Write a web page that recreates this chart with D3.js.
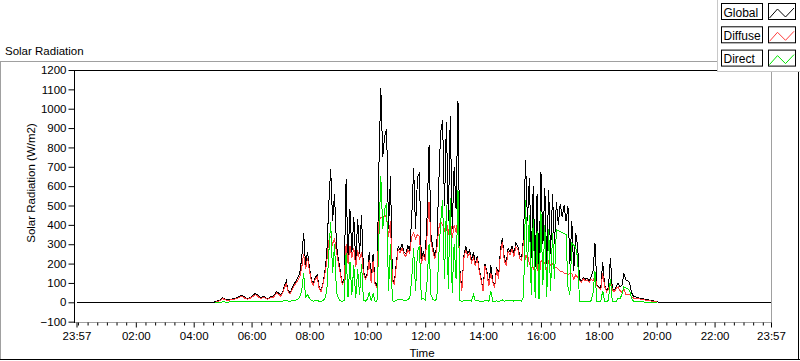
<!DOCTYPE html>
<html><head><meta charset="utf-8">
<script src="https://cdn.jsdelivr.net/npm/d3@7"></script>
<style>
body{margin:0;background:#fff}
svg{display:block}
text{font-family:"Liberation Sans",Arial,sans-serif;fill:#000}
</style>
</head><body>
<svg id="c" width="800" height="361"></svg>
<script>
// ---- data (minutes after midnight; samples every 4 minutes from 04:40) ----
const startMinute = 280;
const stepMinutes = 4;
const globalValues = [
0,2,6,10,14,24,18,15,14,16,
17,20,22,28,33,36,30,22,20,24,
30,38,46,38,28,24,30,26,20,22,
30,28,40,55,48,38,50,85,110,60,
48,75,95,110,130,150,230,360,190,260,
180,120,95,130,140,80,60,100,160,250,
500,690,420,560,300,220,160,100,120,636,
220,480,260,440,200,430,250,450,160,130,
150,260,110,250,100,80,700,1107,750,860,
896,380,650,120,100,200,290,270,300,260,
250,290,270,435,694,380,648,665,210,260,
230,450,810,350,280,240,290,600,880,940,
500,930,420,960,380,700,480,1038,170,63,
240,290,250,270,220,260,200,240,170,120,
63,200,160,90,190,110,80,184,130,270,
330,230,200,280,260,290,250,305,290,240,
230,340,736,420,640,230,600,180,560,140,
675,300,590,200,580,250,560,300,520,400,
510,440,500,420,495,200,420,160,360,290,
120,110,130,120,125,110,130,160,306,90,
80,70,210,90,60,80,228,70,60,80,
100,80,90,150,115,110,100,50,30,28,
25,22,20,18,15,14,12,10,8,5,
3,1,0,0,0,0];
const diffuseValues = [
null,0,3,6,10,19,14,11,10,12,
13,16,18,23,28,31,25,18,16,20,
25,33,40,33,23,20,25,22,16,18,
25,23,35,48,42,33,44,75,95,54,
43,66,84,98,115,130,180,250,170,230,
165,110,88,120,130,74,55,92,145,210,
320,340,300,330,260,200,148,93,108,300,
200,290,230,280,183,270,220,260,148,120,
138,220,102,215,93,74,420,440,430,450,
440,340,420,112,94,186,272,255,282,248,
238,272,252,340,360,330,350,340,198,243,
216,350,520,310,262,226,272,380,420,400,
370,420,350,430,330,400,360,440,158,58,
226,272,236,254,206,230,188,226,160,112,
58,188,150,84,150,102,74,172,122,254,
310,216,188,264,246,274,236,288,274,226,
216,320,220,250,200,180,180,150,200,120,
210,220,200,170,210,190,200,180,180,170,
160,160,150,150,140,150,150,120,140,130,
112,104,122,112,116,102,118,110,140,84,
74,64,150,82,55,68,110,64,54,72,
80,60,50,70,40,40,38,30,22,22,
20,18,16,14,12,11,9,7,5,3,
2,null,null,null,null,null];
const directValues = [
null,0,0,0,1,2,2,1,1,2,
2,2,2,3,3,3,2,2,2,3,
3,3,4,3,3,2,3,3,3,4,
4,4,5,6,5,5,6,10,12,6,
5,8,10,12,15,30,60,150,25,40,
20,10,6,8,10,5,4,8,20,60,
250,415,150,300,50,20,8,5,10,255,
25,210,40,190,20,170,40,200,10,5,
15,50,6,45,5,5,330,650,380,480,
510,60,300,8,5,10,15,12,15,10,
8,15,20,120,280,60,260,290,15,20,
10,110,300,40,15,10,15,230,410,530,
120,500,70,540,50,300,120,580,10,3,
8,10,8,10,6,40,8,10,6,5,
3,10,8,5,60,5,4,8,5,8,
12,6,8,10,8,10,6,12,10,8,
6,30,530,180,450,40,430,20,370,15,
470,90,400,30,380,60,360,120,375,370,
365,360,355,350,80,40,305,295,285,230,
5,3,4,4,5,4,8,50,160,5,
4,3,60,4,3,10,120,3,4,6,
20,20,40,80,75,70,60,20,6,4,
3,2,2,2,1,1,1,0,0,0,
0,null,null,null,null,null];
const timeDomain = [-3, 1437];           // 23:57 previous day .. 23:57
const yTicks = [-100,0,100,200,300,400,500,600,700,800,900,1000,1100,1200];
const xMajorTicks = [-3,120,240,360,480,600,720,840,960,1080,1200,1320,1437];
const xTickLabels = ["23:57","02:00","04:00","06:00","08:00","10:00","12:00","14:00","16:00","18:00","20:00","22:00","23:57"];
const xMinorStep = 20;
const legendNames = ["Global","Diffuse","Direct"];
const seriesColors = ["#000000","#ff3c3c","#00e600"];

// ---- drawing ----
const svg = d3.select("#c");
const FONT = "11.5px";
const x = d3.scaleLinear().domain(timeDomain).range([76.5, 771]);
const y = d3.scaleLinear().domain([-100,1200]).range([321.66, 70]);

// outer panel frame
svg.append("line").attr("x1",0).attr("x2",800).attr("y1",61.5).attr("y2",61.5).attr("stroke","#a0a0a0");
svg.append("line").attr("x1",0.5).attr("x2",0.5).attr("y1",61.5).attr("y2",360).attr("stroke","#a0a0a0");
svg.append("line").attr("x1",0).attr("x2",800).attr("y1",359.5).attr("y2",359.5).attr("stroke","#000");
svg.append("line").attr("x1",798.5).attr("x2",798.5).attr("y1",61.5).attr("y2",360).attr("stroke","#000");

svg.append("text").attr("x",5).attr("y",55).style("font-size",FONT).text("Solar Radiation");

// plot background
svg.append("rect").attr("x",74.5).attr("y",70.5).attr("width",697).attr("height",252).attr("fill","#fff");

// series
const times = globalValues.map((v,i)=> startMinute + i*stepMinutes);
const globalPts = [[timeDomain[0],0]].concat(globalValues.map((v,i)=>[times[i],v])).concat([[timeDomain[1],0]]);
const line = d3.line().defined(d=>d[1]!==null).x(d=>x(d[0])).y(d=>y(d[1]));
const series = [globalPts,
  diffuseValues.map((v,i)=>[times[i],v]),
  directValues.map((v,i)=>[times[i],v])];
series.forEach((pts,k)=>{
  svg.append("path").datum(pts).attr("d",line).attr("fill","none")
     .attr("stroke",seriesColors[k]).attr("stroke-width",1)
     .attr("shape-rendering","crispEdges");
});

// borders over data
svg.append("line").attr("x1",74).attr("x2",772).attr("y1",70.5).attr("y2",70.5).attr("stroke","#000");
svg.append("line").attr("x1",74.5).attr("x2",74.5).attr("y1",70).attr("y2",323).attr("stroke","#000");
svg.append("line").attr("x1",771.5).attr("x2",771.5).attr("y1",70).attr("y2",323).attr("stroke","#a0a0a0");
svg.append("line").attr("x1",75).attr("x2",772).attr("y1",322.5).attr("y2",322.5).attr("stroke","#a0a0a0");

// y axis
const ya = svg.append("g").attr("transform","translate(74.5,0)")
  .call(d3.axisLeft(y).tickValues(yTicks).tickSize(6).tickPadding(2).tickFormat(d3.format("d")));
ya.select(".domain").remove();
ya.selectAll("text").attr("font-family",null).style("font-size",FONT).attr("fill","#000");
ya.selectAll("line").attr("stroke","#000");

// x axis minor
const minorTicks = d3.range(0, 1440, xMinorStep).filter(t=>t%120!==0 || t===0);
const xm = svg.append("g").attr("transform","translate(0,322.5)")
  .call(d3.axisBottom(x).tickValues(minorTicks).tickSize(3).tickFormat(""));
xm.select(".domain").remove();
xm.selectAll("line").attr("stroke","#000");
// x axis major
const xa = svg.append("g").attr("transform","translate(0,322.5)")
  .call(d3.axisBottom(x).tickValues(xMajorTicks).tickSize(5).tickPadding(4)
    .tickFormat((d,i)=>xTickLabels[i]));
xa.select(".domain").remove();
xa.selectAll("text").attr("font-family",null).style("font-size",FONT).attr("fill","#000");
xa.selectAll("line").attr("stroke","#000");

// axis titles
svg.append("text").attr("transform","translate(35,183) rotate(-90)")
  .attr("text-anchor","middle").style("font-size",FONT).text("Solar Radiation (W/m2)");
svg.append("text").attr("x",422).attr("y",357).attr("text-anchor","middle")
  .style("font-size",FONT).text("Time");

// legend
svg.append("rect").attr("x",717).attr("y",0).attr("width",83).attr("height",72).attr("fill","#fff");
svg.append("line").attr("x1",717.5).attr("x2",717.5).attr("y1",0).attr("y2",72).attr("stroke","#c8c8c8");
svg.append("line").attr("x1",717).attr("x2",800).attr("y1",71.5).attr("y2",71.5).attr("stroke","#c8c8c8");
const zig = [[1,14.5],[9,5.5],[17,13.5],[25.5,4.5]];
legendNames.forEach((name,k)=>{
  const top = 3.5 + k*23.3;
  svg.append("rect").attr("x",721.5).attr("y",top).attr("width",41).attr("height",16)
    .attr("fill","#fff").attr("stroke","#000");
  svg.append("text").attr("x",723.5).attr("y",top+13).style("font-size","12px").text(name);
  svg.append("rect").attr("x",768.5).attr("y",top).attr("width",27).attr("height",16)
    .attr("fill","#fff").attr("stroke","#000");
  svg.append("path").attr("d",d3.line()(zig.map(p=>[768.5+p[0], top+p[1]])))
    .attr("fill","none").attr("stroke",seriesColors[k]).attr("stroke-width",1);
});
</script>
</body></html>
